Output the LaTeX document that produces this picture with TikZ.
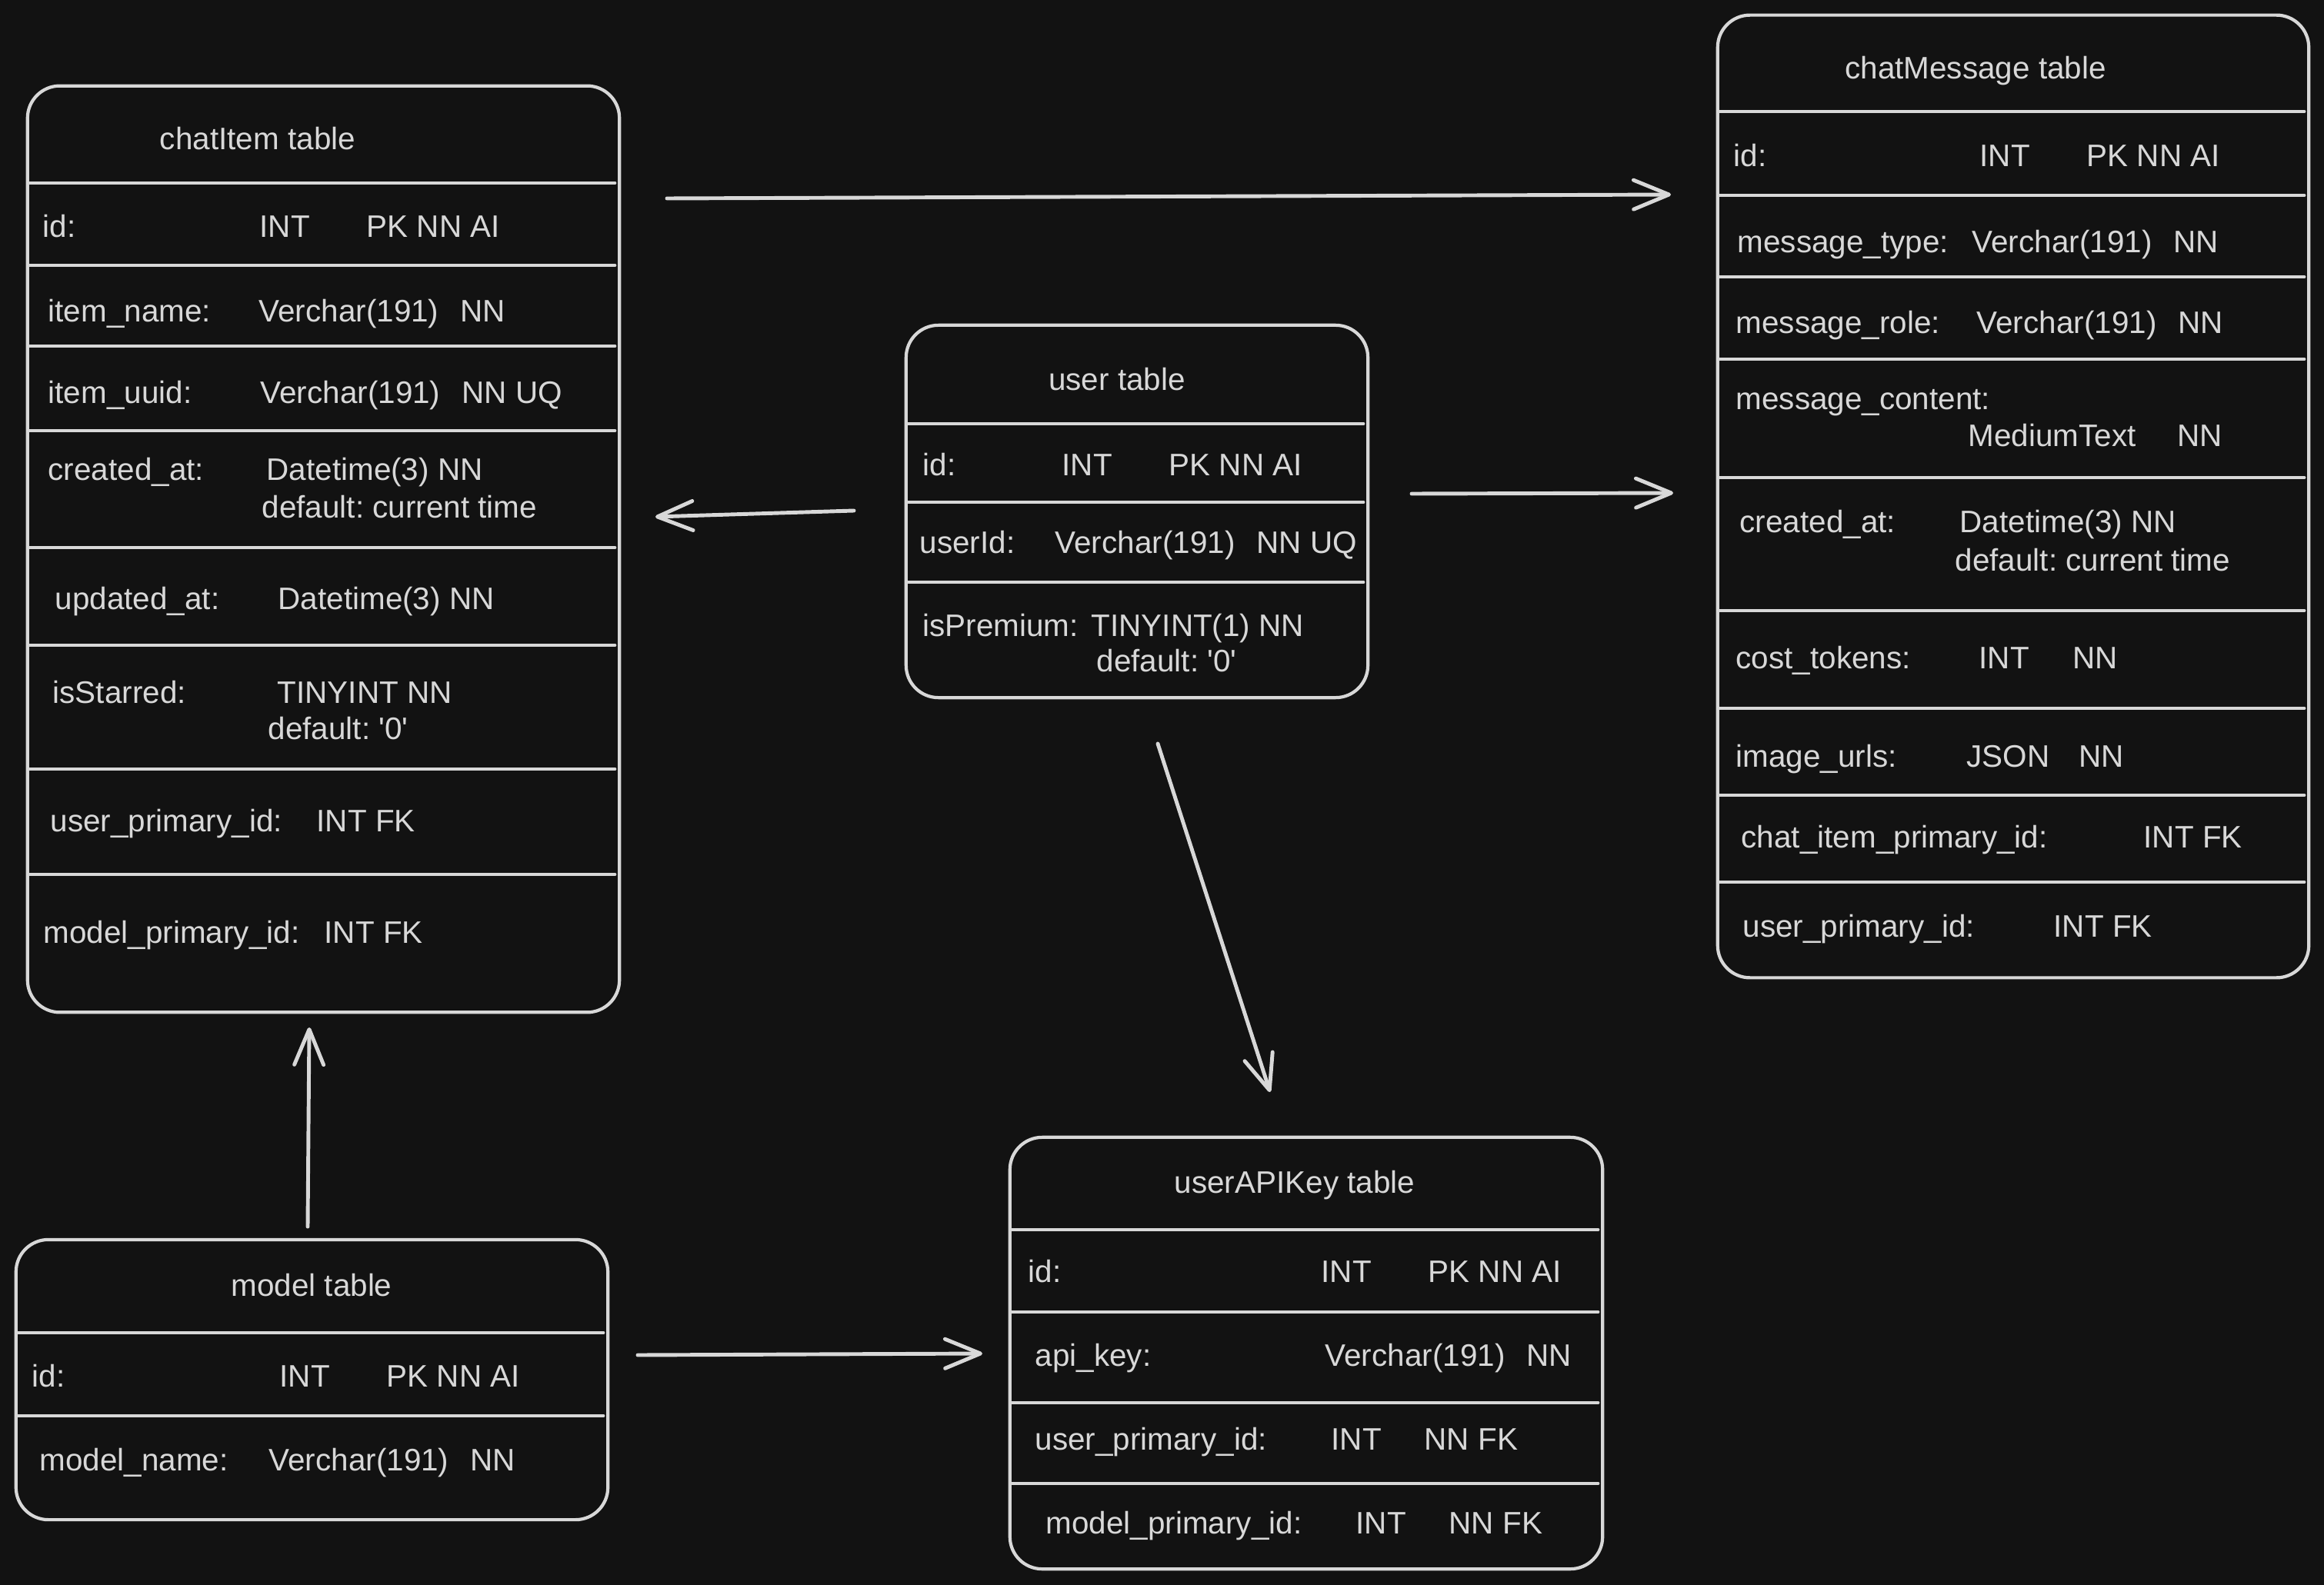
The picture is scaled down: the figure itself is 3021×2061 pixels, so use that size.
\documentclass[tikz,border=0pt]{standalone}
\usepackage{fontspec}
\setmainfont{Liberation Sans}
\usetikzlibrary{arrows.meta}
\definecolor{bg}{HTML}{121212}
\definecolor{ink}{HTML}{D8D8D8}
\frenchspacing
\begin{document}
\begin{tikzpicture}[x=0.01cm,y=-0.01cm,
  tbl/.style={draw=ink, line width=1.2pt, rounded corners=0.42cm, inner sep=0pt},
  sepline/.style={draw=ink, line width=1.4pt, line cap=round},
  txt/.style={text=ink, font=\fontsize{11.5}{13.5}\selectfont, anchor=west, inner sep=0pt, text height=8.2pt, text depth=0pt},
  ttl/.style={txt, anchor=center},
  link/.style={draw=ink, line width=1.4pt, line cap=round, -{Straight Barb[length=4.6mm,width=3.8mm,round]}}]
\fill[bg] (0,0) rectangle (3021,2061);
\useasboundingbox (0,0) rectangle (3021,2061);

% ---------------- boxes
\node[tbl, minimum width=7.69cm, minimum height=12.04cm] (chatItem) at (420.5,714) {};
\node[tbl, minimum width=7.68cm, minimum height=12.51cm] (chatMessage) at (2617,645.5) {};
\node[tbl, minimum width=6.00cm, minimum height=4.84cm] (user) at (1478,665) {};
\node[tbl, minimum width=7.70cm, minimum height=5.61cm] (userAPIKey) at (1698,1759.5) {};
\node[tbl, minimum width=7.69cm, minimum height=3.64cm] (model) at (405.5,1794) {};

% ---------------- separators
\foreach \yy in {238,345,450,560,712,839,1000,1137}
  \draw[sepline] (39,\yy) -- (799,\yy);
\foreach \yy in {145,254,360,467,621,794,921,1034,1147}
  \draw[sepline] (2236,\yy) -- (2995,\yy);
\foreach \yy in {551,653,757}
  \draw[sepline] (1181,\yy) -- (1772,\yy);
\foreach \yy in {1599,1706,1824,1929}
  \draw[sepline] (1316,\yy) -- (2077,\yy);
\foreach \yy in {1733,1841}
  \draw[sepline] (24,\yy) -- (784,\yy);

% ---------------- chatItem table
\node[ttl] (ciT) at (335,180) {chatItem table};
\node[txt] (ci1a) at (55,294) {id:};
\node[txt] (ci1b) at (337,294) {INT};
\node[txt] (ci1c) at (476,294) {PK NN AI};
\node[txt] (ci2a) at (62,404) {item\_name:};
\node[txt] (ci2b) at (336,404) {Verchar(191)};
\node[txt] (ci2c) at (598,404) {NN};
\node[txt] (ci3a) at (62,510) {item\_uuid:};
\node[txt] (ci3b) at (338,510) {Verchar(191)};
\node[txt] (ci3c) at (600,510) {NN UQ};
\node[txt] (ci4a) at (62,610) {created\_at:};
\node[txt] (ci4b) at (346,610) {Datetime(3) NN};
\node[txt] (ci4c) at (340,659) {default: current time};
\node[txt] (ci5a) at (71,778) {updated\_at:};
\node[txt] (ci5b) at (361,778) {Datetime(3) NN};
\node[txt] (ci6a) at (68,900) {isStarred:};
\node[txt] (ci6b) at (360,900) {TINYINT NN};
\node[txt] (ci6c) at (348,947) {default: \textquotesingle 0\textquotesingle};
\node[txt] (ci7a) at (65,1067) {user\_primary\_id:};
\node[txt] (ci7b) at (411,1067) {INT FK};
\node[txt] (ci8a) at (56,1212) {model\_primary\_id:};
\node[txt] (ci8b) at (421,1212) {INT FK};

% ---------------- chatMessage table
\node[ttl] (cmT) at (2568,88) {chatMessage table};
\node[txt] (cm1a) at (2253,202) {id:};
\node[txt] (cm1b) at (2573,202) {INT};
\node[txt] (cm1c) at (2712,202) {PK NN AI};
\node[txt] (cm2a) at (2258,314) {message\_type:};
\node[txt] (cm2b) at (2563,314) {Verchar(191)};
\node[txt] (cm2c) at (2825,314) {NN};
\node[txt] (cm3a) at (2256,419) {message\_role:};
\node[txt] (cm3b) at (2569,419) {Verchar(191)};
\node[txt] (cm3c) at (2831,419) {NN};
\node[txt] (cm4a) at (2256,518) {message\_content:};
\node[txt] (cm4b) at (2558,566) {MediumText};
\node[txt] (cm4c) at (2830,566) {NN};
\node[txt] (cm5a) at (2261,678) {created\_at:};
\node[txt] (cm5b) at (2547,678) {Datetime(3) NN};
\node[txt] (cm5c) at (2541,728) {default: current time};
\node[txt] (cm6a) at (2256,855) {cost\_tokens:};
\node[txt] (cm6b) at (2572,855) {INT};
\node[txt] (cm6c) at (2694,855) {NN};
\node[txt] (cm7a) at (2256,983) {image\_urls:};
\node[txt] (cm7b) at (2556,983) {JSON};
\node[txt] (cm7c) at (2702,983) {NN};
\node[txt] (cm8a) at (2263,1088) {chat\_item\_primary\_id:};
\node[txt] (cm8b) at (2786,1088) {INT FK};
\node[txt] (cm9a) at (2265,1204) {user\_primary\_id:};
\node[txt] (cm9b) at (2669,1204) {INT FK};

% ---------------- user table
\node[ttl] (uT) at (1452,493) {user table};
\node[txt] (u1a) at (1199,604) {id:};
\node[txt] (u1b) at (1380,604) {INT};
\node[txt] (u1c) at (1519,604) {PK NN AI};
\node[txt] (u2a) at (1195,705) {userId:};
\node[txt] (u2b) at (1371,705) {Verchar(191)};
\node[txt] (u2c) at (1633,705) {NN UQ};
\node[txt] (u3a) at (1199,813) {isPremium:};
\node[txt] (u3b) at (1418,813) {TINYINT(1) NN};
\node[txt] (u3c) at (1425,859) {default: \textquotesingle 0\textquotesingle};

% ---------------- userAPIKey table
\node[ttl] (kT) at (1683,1537) {userAPIKey table};
\node[txt] (k1a) at (1336,1653) {id:};
\node[txt] (k1b) at (1717,1653) {INT};
\node[txt] (k1c) at (1856,1653) {PK NN AI};
\node[txt] (k2a) at (1345,1762) {api\_key:};
\node[txt] (k2b) at (1722,1762) {Verchar(191)};
\node[txt] (k2c) at (1984,1762) {NN};
\node[txt] (k3a) at (1345,1871) {user\_primary\_id:};
\node[txt] (k3b) at (1730,1871) {INT};
\node[txt] (k3c) at (1851,1871) {NN FK};
\node[txt] (k4a) at (1359,1980) {model\_primary\_id:};
\node[txt] (k4b) at (1762,1980) {INT};
\node[txt] (k4c) at (1883,1980) {NN FK};

% ---------------- model table
\node[ttl] (mT) at (405,1671) {model table};
\node[txt] (m1a) at (41,1789) {id:};
\node[txt] (m1b) at (363,1789) {INT};
\node[txt] (m1c) at (502,1789) {PK NN AI};
\node[txt] (m2a) at (51,1898) {model\_name:};
\node[txt] (m2b) at (349,1898) {Verchar(191)};
\node[txt] (m2c) at (611,1898) {NN};

% ---------------- connectors
\coordinate (a1s) at (867,258);   \coordinate (a1e) at (2172,253);
\coordinate (a2s) at (1110,664);  \coordinate (a2e) at (852,672);
\coordinate (a3s) at (1835,642);  \coordinate (a3e) at (2175,641);
\coordinate (a4s) at (1505,967);  \coordinate (a4e) at (1651,1420);
\coordinate (a5s) at (829,1762);  \coordinate (a5e) at (1277,1760);
\coordinate (a6s) at (400,1595);  \coordinate (a6e) at (402,1336);
\draw[link] (a1s) -- (a1e);
\draw[link] (a2s) -- (a2e);
\draw[link] (a3s) -- (a3e);
\draw[link] (a4s) -- (a4e);
\draw[link] (a5s) -- (a5e);
\draw[link] (a6s) -- (a6e);
\end{tikzpicture}
\end{document}
